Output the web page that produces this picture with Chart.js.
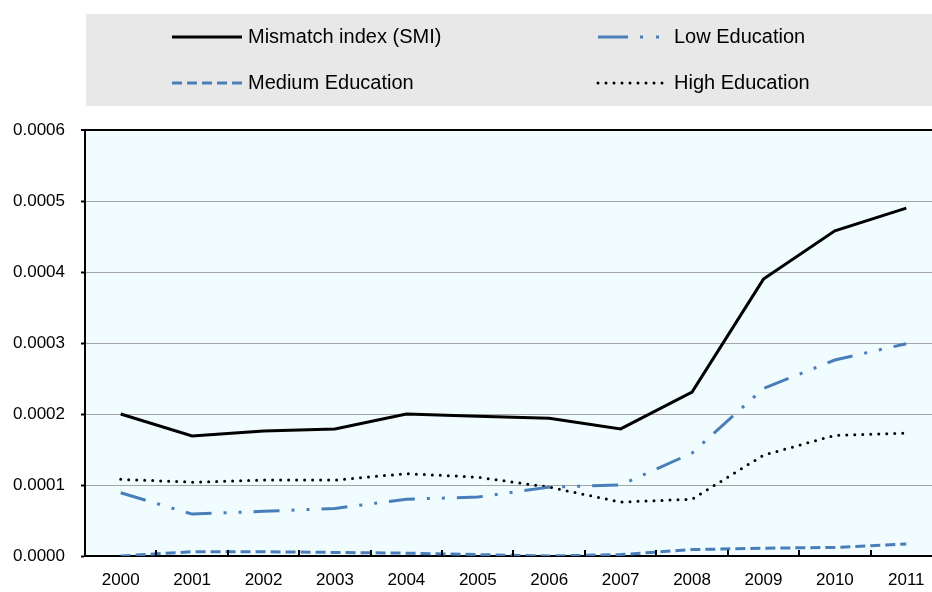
<!DOCTYPE html>
<html>
<head>
<meta charset="utf-8">
<script src="https://cdn.jsdelivr.net/npm/chart.js@4.4.1/dist/chart.umd.min.js"></script>
<style>
  html, body { margin: 0; padding: 0; background: #fff; overflow: hidden; }
  #chart { display: block; }
</style>
</head>
<body>
<canvas id="chart" width="942" height="592" style="width:942px;height:592px"></canvas>
<script>
const YEARS = ["2000", "2001", "2002", "2003", "2004", "2005", "2006", "2007", "2008", "2009", "2010", "2011"];

const SMI = [0.000200, 0.000169, 0.000176, 0.000179, 0.000200, 0.000197, 0.000194, 0.000179, 0.000231, 0.000390, 0.000458, 0.000490];
const LOW_EDU = [0.000089, 0.000059, 0.000063, 0.000067, 0.000080, 0.000083, 0.000097, 0.000100, 0.000145, 0.000236, 0.000276, 0.000299];
const MEDIUM_EDU = [0.000000, 0.000006, 0.000006, 0.000005, 0.000004, 0.000002, 0.000000, 0.000002, 0.000009, 0.000011, 0.000012, 0.000017];
const HIGH_EDU = [0.000108, 0.000104, 0.000107, 0.000107, 0.000116, 0.000111, 0.000097, 0.000076, 0.000080, 0.000142, 0.000170, 0.000173];

const BLUE = "#4A7EBB";
const FONT = "'Liberation Sans', Arial, sans-serif";

// light cyan fill behind the plot, plus small inward ticks on the x axis
const plotBackground = {
  id: "plotBackground",
  beforeDraw(chart) {
    const { ctx, chartArea: a } = chart;
    ctx.save();
    ctx.fillStyle = "#F0FCFD";
    ctx.fillRect(a.left, a.top, a.right - a.left, a.bottom - a.top);
    ctx.restore();
  },
  afterDraw(chart) {
    const { ctx, chartArea: a } = chart;
    const x = chart.scales.x;
    const step = (a.right - a.left) / YEARS.length;
    ctx.save();
    ctx.strokeStyle = "#000";
    ctx.lineWidth = 2;
    for (let i = 1; i < YEARS.length; i++) {
      const px = Math.round(x.getPixelForValue(i) - step / 2);
      ctx.beginPath();
      ctx.moveTo(px, a.bottom);
      ctx.lineTo(px, a.bottom - 6);
      ctx.stroke();
    }
    ctx.restore();
  }
};

// two-row legend on a grey band above the plot
const boxLegend = {
  id: "boxLegend",
  afterDraw(chart) {
    const { ctx } = chart;
    ctx.save();
    ctx.fillStyle = "#E8E8E8";
    ctx.fillRect(86, 14, 860, 92);

    const slots = [
      { x: 172, y: 37 },
      { x: 598, y: 37 },
      { x: 172, y: 83 },
      { x: 598, y: 83 }
    ];
    chart.data.datasets.forEach((ds, i) => {
      const s = slots[i];
      ctx.strokeStyle = ds.borderColor;
      ctx.lineWidth = ds.borderWidth;
      ctx.lineCap = ds.borderCapStyle || "butt";
      ctx.setLineDash(ds.legendDash || ds.borderDash || []);
      ctx.beginPath();
      ctx.moveTo(s.x, s.y);
      ctx.lineTo(s.x + 70, s.y);
      ctx.stroke();
      ctx.setLineDash([]);
      ctx.fillStyle = "#000";
      ctx.font = "20px " + FONT;
      ctx.textBaseline = "middle";
      ctx.textAlign = "left";
      ctx.fillText(ds.label, s.x + 76, s.y);
    });
    ctx.restore();
  }
};

new Chart(document.getElementById("chart"), {
  type: "line",
  data: {
    labels: YEARS,
    datasets: [
      {
        label: "Mismatch index (SMI)",
        data: SMI,
        borderColor: "#000",
        borderWidth: 3
      },
      {
        label: "Low Education",
        data: LOW_EDU,
        borderColor: BLUE,
        borderWidth: 3,
        borderDash: [26, 12, 3, 12, 3, 12],
        legendDash: [30, 12, 3, 13, 3, 20]
      },
      {
        label: "Medium Education",
        data: MEDIUM_EDU,
        borderColor: BLUE,
        borderWidth: 3,
        borderDash: [10, 5]
      },
      {
        label: "High Education",
        data: HIGH_EDU,
        borderColor: "#000",
        borderWidth: 3,
        borderCapStyle: "round",
        borderDash: [0, 8]
      }
    ]
  },
  options: {
    responsive: false,
    animation: false,
    layout: { padding: { top: 130, left: 0, right: 0, bottom: 0 } },
    elements: {
      point: { radius: 0 },
      line: { tension: 0, fill: false }
    },
    plugins: {
      legend: { display: false },
      tooltip: { enabled: false }
    },
    scales: {
      x: {
        offset: true,
        grid: { display: false, drawTicks: false, offset: true },
        border: { display: true, color: "#000", width: 2 },
        ticks: {
          color: "#000",
          font: { family: FONT, size: 17 },
          padding: 14,
          maxRotation: 0,
          autoSkip: false
        },
        afterFit(scale) { scale.height = 36; }
      },
      y: {
        min: 0,
        max: 0.0006,
        grid: {
          color: ctx => (ctx.tick && ctx.tick.value >= 0.0006 ? "#000" : "#A6A6A6"),
          lineWidth: ctx => (ctx.tick && ctx.tick.value >= 0.0006 ? 2 : 1),
          tickColor: "#000",
          tickLength: 4,
          tickWidth: 2
        },
        border: { display: true, color: "#000", width: 2 },
        ticks: {
          stepSize: 0.0001,
          color: "#000",
          font: { family: FONT, size: 17 },
          padding: 16,
          callback: v => Number(v).toFixed(4)
        },
        afterFit(scale) { scale.width = 85; }
      }
    }
  },
  plugins: [plotBackground, boxLegend]
});
</script>
</body>
</html>
